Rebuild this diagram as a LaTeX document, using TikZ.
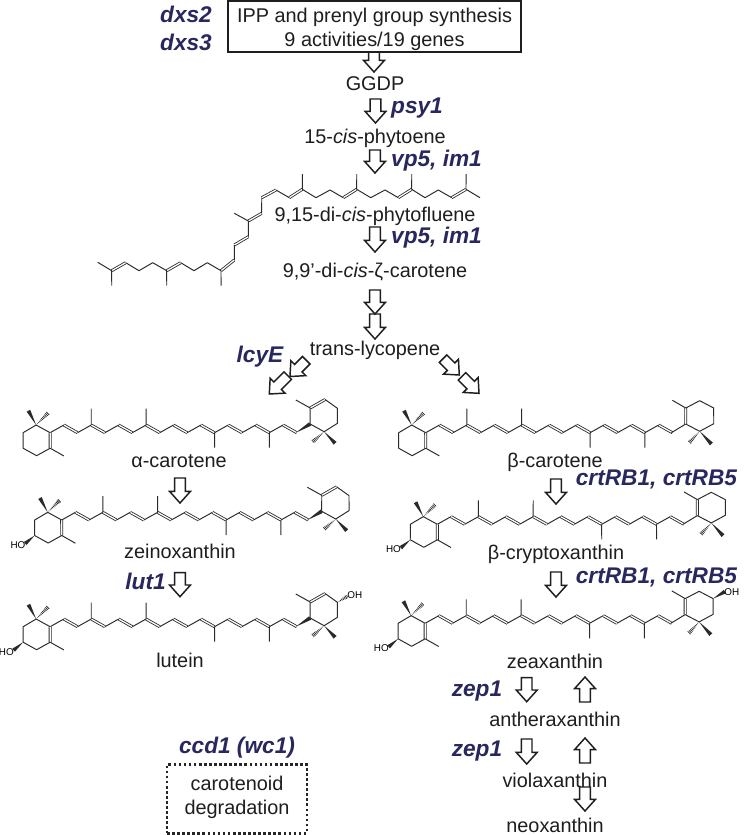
\documentclass[tikz,border=0pt]{standalone}
\usepackage{fontspec}
\setmainfont{Liberation Sans}
\usetikzlibrary{calc}
\definecolor{navy}{HTML}{28285F}
\definecolor{molc}{HTML}{2A2A2A}
\definecolor{txtc}{HTML}{1E1E1E}
\tikzset{
  bnd/.style={line width=.72pt,draw=molc,line join=round},
  dbl/.style={draw=molc,double=white,double distance=.95pt,line width=.62pt},
  blockarrow/.style={line width=1.1pt,draw=txtc,line join=miter},
  cmpd/.style={font=\fontsize{14.9}{18}\selectfont,text=txtc,inner sep=0pt,text height=10.7pt,text depth=0pt},
  gene/.style={font=\fontsize{17}{20}\selectfont\bfseries\itshape,text=navy,inner sep=0pt,text height=12.2pt,text depth=0pt},
  atomlabel/.style={font=\fontsize{7.4}{9}\selectfont,text=black,inner sep=0pt}
}
% tip x, tip y, length, rotation
\newcommand\blockarr[4]{%
  \begin{scope}[shift={(#1,#2)},rotate=#4]
    \draw[blockarrow] (0,0) -- (-10.5,-11.7) -- (-5.3,-11.7) -- (-5.3,-#3) -- (5.3,-#3) -- (5.3,-11.7) -- (10.5,-11.7) -- cycle;
  \end{scope}}
\newcommand\wedgeb[2]{%
  \fill[molc] (#1) -- ($(#2)!1.5pt!90:(#1)$) -- ($(#2)!1.5pt!-90:(#1)$) -- cycle;}
\newcommand\hashb[2]{%
  \begin{scope}
    \clip (#1) -- ($(#2)!1.6pt!90:(#1)$) -- ($(#2)!1.6pt!-90:(#1)$) -- cycle;
    \draw[molc,line width=3.4pt,dash pattern=on .55pt off .65pt] (#1) -- (#2);
  \end{scope}}
\newcommand\chainmol{%
  \foreach \k in {1,3,...,17}{\draw[dbl] ({13.7*\k},-7.67) -- ({13.7*(\k+1)},0);}
  \foreach \k in {0,2,...,16}{\draw[bnd] ({13.7*\k},0) -- ({13.7*(\k+1)},-7.67);}
  \draw[bnd] (41.1,-7.67) -- (41.13,-24);
  \draw[bnd] (95.9,-7.67) -- (95.93,-24);
  \draw[bnd] (164.4,0) -- (164.43,15);
  \draw[bnd] (219.2,0) -- (219.23,15);}
\newcommand\ringleft{%
  \draw[dbl] (0,0) -- (0.04,15.5);
  \draw[bnd] (0,0) -- (-14,-7.67) -- (-27,0) -- (-27.04,15.5) -- (-13.5,23) -- (0.04,15.5) -- (13.7,23.2);
  \wedgeb{-14,-7.67}{-21.7,-22}
  \hashb{-14,-7.67}{-1.7,-20}}
\newcommand\hogroup{%
  \wedgeb{-27.04,15.5}{-36.5,23.5}
  \node[atomlabel] at (-43.8,25) {HO};}
% epsilon ring (alpha family), drawn from chain atom 19
\newcommand\ringeps{%
  \wedgeb{245.7,0}{260,-8.7}
  \begin{scope}[shift={(260,-8.7)}]
    \draw[dbl] (0.04,-16) -- (15,-24.5);
    \draw[bnd] (0,0) -- (0.04,-16) -- (-14.3,-24);
    \draw[bnd] (15,-24.5) -- (27.3,-15.7) -- (27.34,-0.7) -- (14,7.7) -- (0,0);
    \wedgeb{14,7.7}{25,19.3}
    \hashb{14,7.7}{2.7,17.7}
  \end{scope}}
% beta ring
\newcommand\ringbeta{%
  \draw[bnd] (245.7,0) -- (260,-8.7);
  \begin{scope}[shift={(260,-8.7)}]
    \draw[dbl] (0,0) -- (0.04,-16);
    \draw[bnd] (0.04,-16) -- (-13.3,-23.7);
    \draw[bnd] (0.04,-16) -- (14,-23.3) -- (28,-16) -- (28.04,-0.3) -- (14,7.3) -- (0,0);
    \wedgeb{14,7.3}{25.7,20}
    \hashb{14,7.3}{3.3,19}
  \end{scope}}
\begin{document}
\begin{tikzpicture}[x=.75pt,y=-.75pt]
\useasboundingbox (0,0) rectangle (743,835);
\fill[white] (0,0) rectangle (743,835);

% --- top box ---
\node[draw=txtc,line width=1.1pt,minimum width=219.75pt,minimum height=38.25pt,inner sep=0pt] (ipp) at (374.5,26.5) {};
\node[cmpd] (ippa) at (374.5,15) {IPP and prenyl group synthesis};
\node[cmpd] (ippb) at (374.5,39) {9 activities/19 genes};

% --- dotted box ---
\node[draw=black!85,line width=1.8pt,dash pattern=on 2pt off 1.8pt,minimum width=105pt,minimum height=51.5pt,inner sep=0pt] (deg) at (237,799) {};
\node[cmpd] (dega) at (237,783) {carotenoid};
\node[cmpd] (degb) at (237,807) {degradation};

% --- compound labels ---
\node[cmpd] (ggdp) at (375,83) {GGDP};
\node[cmpd] (phytoene) at (375,136.7) {15-\textit{cis}-phytoene};
\node[cmpd] (fluene) at (375,214) {9,15-di-\textit{cis}-phytofluene};
\node[cmpd] (zeta) at (375,270) {9,9’-di-\textit{cis}-ζ-carotene};
\node[cmpd] (lyco) at (375,348) {trans-lycopene};
\node[cmpd] (acar) at (179,460) {α-carotene};
\node[cmpd] (zein) at (180,551.7) {zeinoxanthin};
\node[cmpd] (lutein) at (180,660) {lutein};
\node[cmpd] (bcar) at (555,460.7) {β-carotene};
\node[cmpd] (bcry) at (556,552.7) {β-cryptoxanthin};
\node[cmpd] (zea) at (555,661.7) {zeaxanthin};
\node[cmpd] (anth) at (555,719) {antheraxanthin};
\node[cmpd] (viol) at (555,780) {violaxanthin};
\node[cmpd] (neo) at (555,825) {neoxanthin};

% --- gene labels ---
\node[gene] (dxsa) at (186,14) {dxs2};
\node[gene] (dxsb) at (186,42) {dxs3};
\node[gene] (psy) at (417,105) {psy1};
\node[gene] (vpa) at (436.5,158) {vp5, im1};
\node[gene] (vpb) at (436.5,235) {vp5, im1};
\node[gene] (lcy) at (260,354) {lcyE};
\node[gene] (lut) at (145.5,581.7) {lut1};
\node[gene] (crta) at (656.5,477) {crtRB1, crtRB5};
\node[gene] (crtb) at (656.5,575) {crtRB1, crtRB5};
\node[gene] (zepa) at (477,688) {zep1};
\node[gene] (zepb) at (477,748) {zep1};
\node[gene] (ccd) at (237,745) {ccd1 (wc1)};

% --- block arrows ---
\blockarr{374}{72}{20}{0}
\blockarr{375.5}{123}{24}{0}
\blockarr{375}{173}{23}{0}
\blockarr{375}{252}{25}{0}
\blockarr{375}{314}{24}{0}
\blockarr{375}{339}{25}{0}
\blockarr{290}{376.5}{23}{-45}
\blockarr{269.3}{394}{26}{-45}
\blockarr{459.3}{375}{23}{45}
\blockarr{479}{393.3}{24}{45}
\blockarr{180}{503}{25}{0}
\blockarr{180}{596.7}{24}{0}
\blockarr{556}{504}{25}{0}
\blockarr{556}{597}{25}{0}
\blockarr{526.7}{701.7}{24}{0}
\blockarr{585}{677}{25}{180}
\blockarr{526.7}{764}{25}{0}
\blockarr{585}{738}{25}{180}
\blockarr{585}{811}{24}{0}

% --- phytofluene ---
\draw[dbl] (111.7,270.7) -- (125.7,262.7);
\draw[dbl] (166.7,270.7) -- (180.7,262.7);
\draw[dbl] (221,270.7) -- (234.3,260);
\draw[dbl] (234.3,245) -- (248.3,236.7);
\draw[dbl] (248.3,221) -- (261.7,213.3);
\draw[dbl] (261.7,197.7) -- (276,190);
\draw[dbl] (289.3,197.7) -- (302.3,189.3);
\draw[dbl] (343.3,197.7) -- (356.7,189.3);
\draw[dbl] (398.3,197.7) -- (411.7,189.3);
\draw[dbl] (451.7,197.7) -- (466,189.3);
\draw[bnd] (97.7,262.3) -- (111.7,270.7) -- (111.74,285.7);
\draw[bnd] (125.7,262.7) -- (139,270.7) -- (152.7,262.7) -- (166.7,270.7) -- (166.74,285.7);
\draw[bnd] (180.7,262.7) -- (194,270.7) -- (207.3,262.7) -- (221,270.7) -- (221.04,285.7);
\draw[bnd] (234.3,260) -- (234.34,245);
\draw[bnd] (248.3,236.7) -- (248.34,221) -- (234.3,213.3);
\draw[bnd] (261.7,213.3) -- (261.74,197.7);
\draw[bnd] (276,190) -- (289.3,197.7);
\draw[bnd] (302.3,189.3) -- (302.34,174);
\draw[bnd] (302.3,189.3) -- (316,197.7) -- (330,190) -- (343.3,197.7);
\draw[bnd] (356.7,189.3) -- (356.74,174);
\draw[bnd] (356.7,189.3) -- (370.7,197.7) -- (385,190) -- (398.3,197.7);
\draw[bnd] (411.7,189.3) -- (411.74,174);
\draw[bnd] (411.7,189.3) -- (425,197.7) -- (438.3,190) -- (451.7,197.7);
\draw[bnd] (466,189.3) -- (466.04,174);
\draw[bnd] (466,189.3) -- (480,197.7);

% --- alpha-carotene ---
\begin{scope}[shift={(50.13,432.7)}]
  \chainmol \ringleft \ringeps
\end{scope}
% --- zeinoxanthin ---
\begin{scope}[shift={(61.7,520)}]
  \chainmol \ringleft \hogroup \ringeps
\end{scope}
% --- lutein ---
\begin{scope}[shift={(50.13,626.7)}]
  \chainmol \ringleft \hogroup \ringeps
  \hashb{287.3,-24.4}{297.3,-30.4}
  \node[atomlabel] at (304.7,-32) {OH};
\end{scope}
% --- beta-carotene ---
\begin{scope}[shift={(425.7,432.7)}]
  \chainmol \ringleft \ringbeta
\end{scope}
% --- beta-cryptoxanthin ---
\begin{scope}[shift={(437.3,524.3)}]
  \chainmol \ringleft \hogroup \ringbeta
\end{scope}
% --- zeaxanthin ---
\begin{scope}[shift={(425.13,623.3)}]
  \chainmol \ringleft \hogroup \ringbeta
  \wedgeb{288,-24.7}{299.7,-31.7}
  \node[atomlabel] at (306.7,-30.8) {OH};
\end{scope}
\end{tikzpicture}
\end{document}
